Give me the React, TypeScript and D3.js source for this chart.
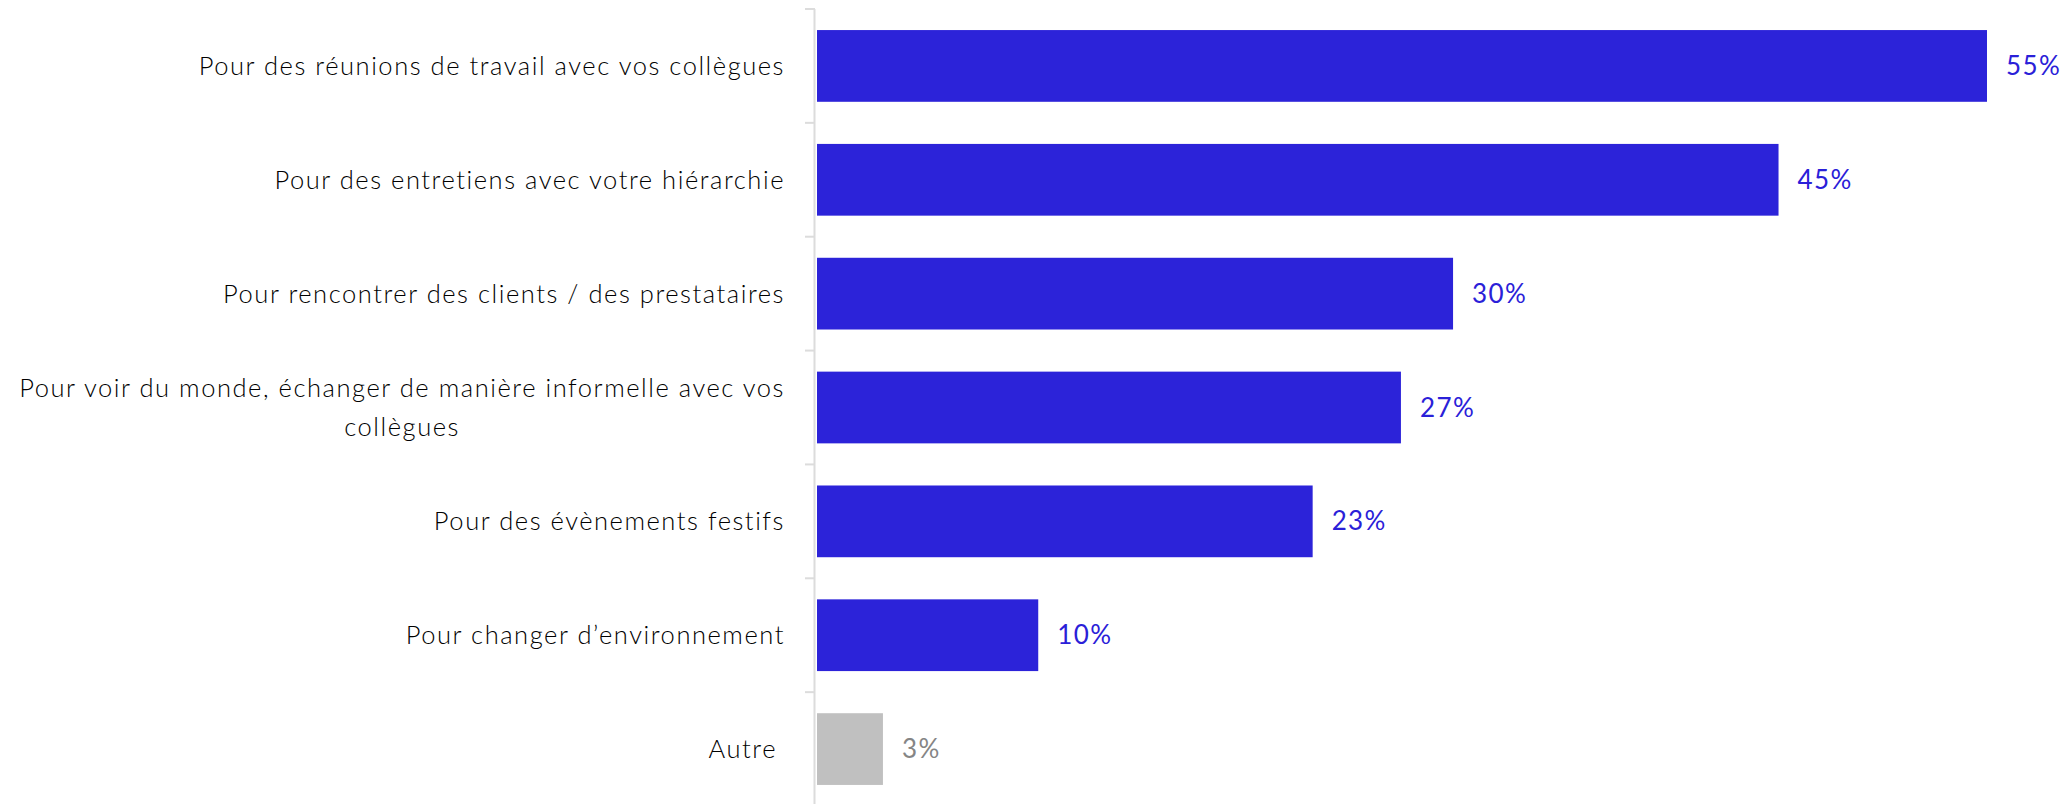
import React, { useEffect, useRef } from "react";
import * as d3 from "d3";

const categories = [
  "Pour des réunions de travail avec vos collègues",
  "Pour des entretiens avec votre hiérarchie",
  "Pour rencontrer des clients / des prestataires",
  "Pour voir du monde, échanger de manière informelle avec vos|collègues",
  "Pour des évènements festifs",
  "Pour changer d’environnement",
  "Autre",
];
const values = [55.0, 45.2, 29.9, 27.45, 23.3, 10.4, 3.1];
const isOther = [false, false, false, false, false, false, true];

const W = 2072;
const H = 804;
const FONT = "Lato, 'Noto Sans', sans-serif";
const BLUE = "#2c23d9";
const BLUE_TXT = "#2a20d8";
const GREY = "#c0c0c0";
const GREY_TXT = "#858585";

export default function App() {
  const ref = useRef<SVGSVGElement>(null);
  useEffect(() => {
    document.body.style.margin = "0";
    const svg = d3.select(ref.current);
    svg.selectAll("*").remove();

    const x = d3.scaleLinear().domain([0, 55]).range([817, 1987]);
    const p = 0.37;
    const y = d3
      .scaleBand<string>()
      .domain(categories)
      .range([9, 806])
      .paddingInner(p)
      .paddingOuter(p / 2);
    const step = y.step();

    svg
      .append("line")
      .attr("x1", 814.5)
      .attr("x2", 814.5)
      .attr("y1", 9)
      .attr("y2", H)
      .attr("stroke", "#dcdcdc")
      .attr("stroke-width", 2);
    d3.range(categories.length + 1).forEach((i) => {
      const yy = 9 + i * step;
      svg
        .append("line")
        .attr("x1", 805)
        .attr("x2", 815)
        .attr("y1", yy)
        .attr("y2", yy)
        .attr("stroke", "#dcdcdc")
        .attr("stroke-width", 2);
    });

    const g = svg.selectAll("g.row").data(categories).enter().append("g");
    g.append("rect")
      .attr("x", x(0))
      .attr("y", (d) => y(d)!)
      .attr("width", (_d, i) => x(values[i]) - x(0))
      .attr("height", y.bandwidth())
      .attr("fill", (_d, i) => (isOther[i] ? GREY : BLUE));

    g.append("text")
      .attr("x", (_d, i) => x(values[i]) + 19)
      .attr("y", (d) => y(d)! + y.bandwidth() / 2)
      .attr("dy", "0.35em")
      .attr("font-family", FONT)
      .attr("font-weight", 400)
      .attr("font-size", 26)
      .attr("letter-spacing", 1.4)
      .attr("fill", (_d, i) => (isOther[i] ? GREY_TXT : BLUE_TXT))
      .text((_d, i) => `${Math.round(values[i])}%`);

    categories.forEach((c, i) => {
      const lines = c.split("|");
      const cy = y(c)! + y.bandwidth() / 2;
      const xEnd = isOther[i] ? 777 : 785;
      const lh = 39;
      const t = svg
        .append("text")
        .attr("font-family", FONT)
        .attr("font-weight", 300)
        .attr("font-size", 25.5)
        .attr("letter-spacing", 1.55)
        .attr("fill", "#000");
      if (lines.length === 1) {
        t.attr("x", xEnd).attr("y", cy).attr("dy", "0.35em").attr("text-anchor", "end").text(c);
      } else {
        const first = t
          .append("tspan")
          .attr("text-anchor", "end")
          .attr("x", xEnd)
          .attr("y", cy - ((lines.length - 1) * lh) / 2)
          .attr("dy", "0.35em")
          .text(lines[0]);
        const w = (first.node() as SVGTextContentElement).getComputedTextLength();
        const center = xEnd - w / 2;
        lines.slice(1).forEach((ln, k) => {
          t.append("tspan")
            .attr("text-anchor", "middle")
            .attr("x", center)
            .attr("y", cy - ((lines.length - 1) * lh) / 2 + (k + 1) * lh)
            .attr("dy", "0.35em")
            .text(ln);
        });
      }
    });
  }, []);
  return <svg ref={ref} width={W} height={H} style={{ display: "block" }} />;
}
